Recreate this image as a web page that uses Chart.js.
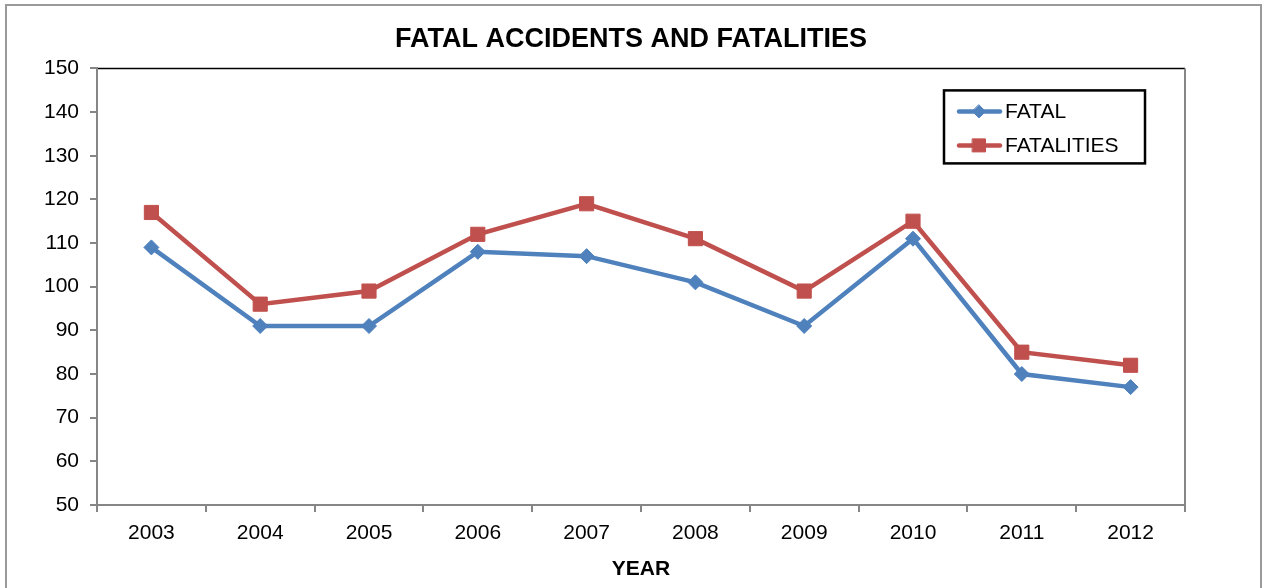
<!DOCTYPE html>
<html>
<head>
<meta charset="utf-8">
<script src="https://cdn.jsdelivr.net/npm/chart.js@4/dist/chart.umd.min.js"></script>
<style>
    html, body { margin: 0; padding: 0; background: #fff; }
    #wrap { width: 1262px; height: 588px; }
</style>
</head>
<body>
<div id="wrap"><canvas id="accidentsChart" width="1262" height="588"></canvas></div>
<script>
// Chart data
const years = ['2003', '2004', '2005', '2006', '2007', '2008', '2009', '2010', '2011', '2012'];
const fatal = [109, 91, 91, 108, 107, 101, 91, 111, 80, 77];
const fatalities = [117, 96, 99, 112, 119, 111, 99, 115, 85, 82];
const yTicks = [50, 60, 70, 80, 90, 100, 110, 120, 130, 140, 150];

const BLUE = '#4f81bd';
const RED = '#c0504d';
const AXIS_GRAY = '#868686';
const FONT = '"Liberation Sans", Arial, sans-serif';

Chart.defaults.font.family = FONT;
Chart.defaults.color = '#000';

// Outer frame + plot border
const framePlugin = {
    id: 'frame',
    beforeDraw(chart) {
        const ctx = chart.ctx;
        const area = chart.chartArea;
        ctx.save();
        ctx.fillStyle = '#fff';
        ctx.fillRect(0, 0, chart.width, chart.height);
        ctx.strokeStyle = '#9a9a9a';
        ctx.lineWidth = 2;
        ctx.strokeRect(6, 5, chart.width - 7, chart.height + 10);

        ctx.strokeStyle = '#000';
        ctx.lineWidth = 1.5;
        ctx.beginPath();
        ctx.moveTo(area.left, area.top);
        ctx.lineTo(area.right, area.top);
        ctx.stroke();
        ctx.strokeStyle = AXIS_GRAY;
        ctx.lineWidth = 2;
        ctx.beginPath();
        ctx.moveTo(area.right, area.top);
        ctx.lineTo(area.right, area.bottom);
        ctx.stroke();
        ctx.restore();
    }
};

// Boxed legend inside the plot area, built from the datasets
const boxLegendPlugin = {
    id: 'boxLegend',
    afterDraw(chart) {
        const ctx = chart.ctx;
        const area = chart.chartArea;
        const boxW = 201, boxH = 73;
        const x0 = area.right - 40 - boxW;
        const y0 = area.top + 22;
        ctx.save();
        ctx.fillStyle = '#fff';
        ctx.fillRect(x0, y0, boxW, boxH);
        ctx.strokeStyle = '#000';
        ctx.lineWidth = 2.5;
        ctx.strokeRect(x0, y0, boxW, boxH);

        chart.data.datasets.forEach((ds, i) => {
            const cy = y0 + 21 + i * 34;
            ctx.strokeStyle = ds.borderColor;
            ctx.lineWidth = 4.5;
            ctx.lineCap = 'round';
            ctx.beginPath();
            ctx.moveTo(x0 + 15, cy);
            ctx.lineTo(x0 + 56, cy);
            ctx.stroke();

            ctx.fillStyle = ds.backgroundColor;
            ctx.strokeStyle = ds.borderColor;
            ctx.lineWidth = 1;
            ctx.beginPath();
            if (ds.pointStyle === 'rect') {
                ctx.rect(x0 + 35 - 6.5, cy - 6.5, 13, 13);
            } else {
                ctx.moveTo(x0 + 35, cy - 6.5);
                ctx.lineTo(x0 + 41.5, cy);
                ctx.lineTo(x0 + 35, cy + 6.5);
                ctx.lineTo(x0 + 28.5, cy);
                ctx.closePath();
            }
            ctx.fill();
            ctx.stroke();

            ctx.fillStyle = '#000';
            ctx.font = '21px ' + FONT;
            ctx.textBaseline = 'middle';
            ctx.textAlign = 'left';
            ctx.fillText(ds.label, x0 + 61, cy + 1);
        });
        ctx.restore();
    }
};

document.addEventListener('DOMContentLoaded', function() {
    const ctx = document.getElementById('accidentsChart');
    new Chart(ctx, {
        type: 'line',
        data: {
            labels: years,
            datasets: [{
                label: 'FATAL',
                data: fatal,
                borderColor: BLUE,
                backgroundColor: BLUE,
                borderWidth: 4.5,
                pointStyle: 'rectRot',
                pointRadius: 7.5,
                pointBorderWidth: 1,
                pointBackgroundColor: BLUE,
                pointBorderColor: BLUE,
                tension: 0
            }, {
                label: 'FATALITIES',
                data: fatalities,
                borderColor: RED,
                backgroundColor: RED,
                borderWidth: 4.5,
                pointStyle: 'rect',
                pointRadius: 10,
                pointBorderWidth: 1,
                pointBackgroundColor: RED,
                pointBorderColor: RED,
                tension: 0
            }]
        },
        options: {
            responsive: false,
            animation: false,
            devicePixelRatio: 1,
            layout: { padding: { left: 0, right: 0, top: 0, bottom: 0 } },
            plugins: {
                legend: { display: false },
                tooltip: { enabled: false },
                title: {
                    display: true,
                    text: 'FATAL ACCIDENTS AND FATALITIES',
                    color: '#000',
                    font: { size: 27, weight: 'bold', family: FONT },
                    padding: { top: 23, bottom: 13 }
                }
            },
            scales: {
                x: {
                    offset: true,
                    grid: {
                        offset: true,
                        drawOnChartArea: false,
                        drawTicks: true,
                        tickLength: 7,
                        color: AXIS_GRAY,
                        lineWidth: 2
                    },
                    border: { color: AXIS_GRAY, width: 2 },
                    ticks: {
                        color: '#000',
                        font: { size: 21 },
                        padding: 9,
                        maxRotation: 0,
                        autoSkip: false
                    },
                    title: {
                        display: true,
                        text: 'YEAR',
                        color: '#000',
                        font: { size: 21, weight: 'bold' },
                        padding: { top: 0, bottom: 6 }
                    },
                    afterFit(scale) { scale.height = 83; }
                },
                y: {
                    min: yTicks[0],
                    max: yTicks[yTicks.length - 1],
                    afterBuildTicks(scale) {
                        scale.ticks = yTicks.map(v => ({ value: v }));
                    },
                    grid: {
                        drawOnChartArea: false,
                        drawTicks: true,
                        tickLength: 7,
                        color: AXIS_GRAY,
                        lineWidth: 2
                    },
                    border: { color: AXIS_GRAY, width: 2 },
                    ticks: {
                        color: '#000',
                        font: { size: 21 },
                        padding: 11
                    },
                    afterFit(scale) { scale.width = 97; }
                },
                // empty right-hand margin so the title centres on the whole canvas
                yRight: {
                    position: 'right',
                    display: true,
                    grid: { display: false, drawTicks: false },
                    border: { display: false },
                    ticks: { display: false },
                    afterFit(scale) { scale.width = 77; }
                }
            }
        },
        plugins: [framePlugin, boxLegendPlugin]
    });
});
</script>
</body>
</html>
